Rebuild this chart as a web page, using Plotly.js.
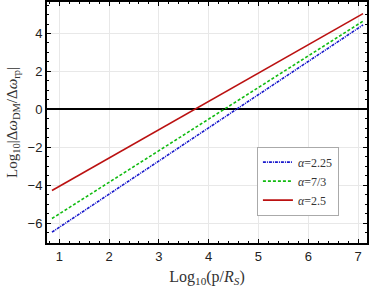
<!DOCTYPE html>
<html><head><meta charset="utf-8">
<script src="https://cdn.plot.ly/plotly-3.0.1.min.js"></script>
<style>html,body{margin:0;padding:0;background:#fff}#c{width:374px;height:290px}</style>
</head><body><div id="c"></div>
<script>
var xVals = [0.853, 7.10];
var seriesNames = ['<i>α</i>=2.25', '<i>α</i>=7/3', '<i>α</i>=2.5'];
var blueVals = [-6.47, 4.45];
var greenVals = [-5.75, 4.65];
var redVals = [-4.27, 5.05];
var colors = ['#1a1acc', '#11bb11', '#bb1111'];
var dashes = ['3px,1px,1px,1px', '3px,2px', 'solid'];
var allVals = [blueVals, greenVals, redVals];

var traces = allVals.map(function(v, i){
  return {x: xVals, y: v, mode: 'lines', name: seriesNames[i],
    line: {color: colors[i], width: 1.6, dash: dashes[i]}};
});
var tickFont = {family: 'Liberation Sans, Arial, sans-serif', size: 13, color: '#222'};
var layout = {
  width: 374, height: 290,
  margin: {l: 47, r: 7, t: 2, b: 47},
  paper_bgcolor: '#fff', plot_bgcolor: '#fff',
  showlegend: true,
  legend: {x: 0.656, y: 0.40, xanchor: 'left', yanchor: 'top',
    bgcolor: '#fff', bordercolor: '#aaa', borderwidth: 1,
    font: {family: 'Liberation Serif, Times New Roman, serif', size: 12, color: '#333'},
    tracegroupgap: 0, itemwidth: 30},
  xaxis: {range: [0.753, 7.18], dtick: 1, tick0: 0, ticks: 'inside', ticklen: 4, tickwidth: 1,
    tickcolor: '#000', showline: true, linecolor: '#000', linewidth: 2, mirror: 'ticks',
    showgrid: true, gridcolor: '#e8e8e8', gridwidth: 1, zeroline: false,
    tickfont: tickFont,
    minor: {dtick: 0.2, ticks: 'inside', ticklen: 2, tickcolor: '#000', showgrid: false},
    title: {text: 'Log<sub>10</sub>(p/<i>R<sub>S</sub></i>)', standoff: 8,
      font: {family: 'Liberation Serif, Times New Roman, serif', size: 16, color: '#333'}}},
  yaxis: {range: [-7.04, 5.66], dtick: 2, tick0: 0, ticks: 'inside', ticklen: 4, tickwidth: 1,
    tickcolor: '#000', showline: true, linecolor: '#000', linewidth: 2, mirror: 'ticks',
    showgrid: true, gridcolor: '#e8e8e8', gridwidth: 1,
    zeroline: true, zerolinecolor: '#000', zerolinewidth: 2,
    tickfont: tickFont,
    minor: {dtick: 0.5, ticks: 'inside', ticklen: 2, tickcolor: '#000', showgrid: false},
    title: {text: 'Log<sub>10</sub>|Δ<i>ω</i><sub>DM</sub>/Δ<i>ω</i><sub>rp</sub>|', standoff: 6,
      font: {family: 'Liberation Serif, Times New Roman, serif', size: 15, color: '#333'}}}
};
Plotly.newPlot('c', traces, layout, {displayModeBar: false, staticPlot: true});
</script></body></html>
